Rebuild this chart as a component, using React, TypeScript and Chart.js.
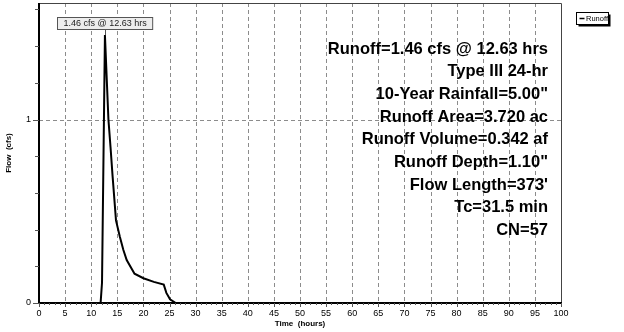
import React, { useEffect, useRef } from "react";
import { Chart, registerables } from "chart.js";

Chart.register(...registerables);

const timeHours = [0, 11.8, 12.07, 12.63, 13.3, 13.7, 14.1, 14.75, 15.5, 16.15, 16.8, 18.3, 20, 22, 23.9, 24.4, 25.1, 26.2, 100];
const flowCfs = [0, 0, 0.11, 1.46, 1.0, 0.85, 0.69, 0.45, 0.36, 0.29, 0.234, 0.16, 0.135, 0.115, 0.1, 0.055, 0.02, 0, 0];

const peakFlow = 1.46;
const peakTime = 12.63;
const peakLabel = "1.46 cfs @ 12.63 hrs";

const summaryLines = [
  "Runoff=1.46 cfs @ 12.63 hrs",
  "Type III 24-hr",
  "10-Year Rainfall=5.00\"",
  "Runoff Area=3.720 ac",
  "Runoff Volume=0.342 af",
  "Runoff Depth=1.10\"",
  "Flow Length=373'",
  "Tc=31.5 min",
  "CN=57",
];

const xMajorStep = 5;
const xMinorStep = 1;
const yMinorStep = 0.2;
const xMax = 100;
const yMax = 1.635;

const FONT = "'Liberation Sans', Arial, sans-serif";

const decorPlugin = {
  id: "decor",
  beforeDatasetsDraw(chart: any) {
    const { ctx, chartArea, scales } = chart;
    const xs = scales.x;
    const ys = scales.y;
    ctx.save();
    ctx.strokeStyle = "#8c8c8c";
    ctx.lineWidth = 1;
    ctx.setLineDash([4, 3]);
    for (let v = xMajorStep; v < xMax; v += xMajorStep) {
      const px = Math.round(xs.getPixelForValue(v)) + 0.5;
      ctx.beginPath();
      ctx.moveTo(px, chartArea.top);
      ctx.lineTo(px, chartArea.bottom);
      ctx.stroke();
    }
    const py1 = Math.round(ys.getPixelForValue(1)) + 0.5;
    ctx.beginPath();
    ctx.moveTo(chartArea.left, py1);
    ctx.lineTo(chartArea.right, py1);
    ctx.stroke();
    ctx.restore();
  },
  afterDatasetsDraw(chart: any) {
    const { ctx, chartArea, scales } = chart;
    const xs = scales.x;
    const ys = scales.y;
    const { left, right, top, bottom } = chartArea;
    ctx.save();
    // top/right border
    ctx.strokeStyle = "#444";
    ctx.lineWidth = 1;
    ctx.beginPath();
    ctx.moveTo(left, top + 0.5);
    ctx.lineTo(right + 0.5, top + 0.5);
    ctx.lineTo(right + 0.5, bottom);
    ctx.stroke();
    // left/bottom axes
    ctx.strokeStyle = "#000";
    ctx.lineWidth = 2;
    ctx.beginPath();
    ctx.moveTo(left, top);
    ctx.lineTo(left, bottom);
    ctx.lineTo(right + 1, bottom);
    ctx.stroke();
    // ticks
    ctx.lineWidth = 1;
    ctx.strokeStyle = "#555";
    for (let v = 0; v <= xMax; v += xMinorStep) {
      const px = Math.round(xs.getPixelForValue(v)) + 0.5;
      const len = v % xMajorStep === 0 ? 4 : 2;
      ctx.beginPath();
      ctx.moveTo(px, bottom);
      ctx.lineTo(px, bottom + len);
      ctx.stroke();
    }
    for (let i = 0; i * yMinorStep <= yMax; i++) {
      const v = i * yMinorStep;
      const py = Math.round(ys.getPixelForValue(v)) + 0.5;
      const len = i % 5 === 0 ? 6 : 4;
      ctx.beginPath();
      ctx.moveTo(left - len, py);
      ctx.lineTo(left, py);
      ctx.stroke();
    }
    // peak label
    const pkx = xs.getPixelForValue(peakTime);
    const pky = ys.getPixelForValue(peakFlow);
    ctx.font = `9px ${FONT}`;
    const tw = ctx.measureText(peakLabel).width;
    const bw = tw + 12;
    const bh = 12;
    const bx = Math.round(pkx - bw / 2) + 0.5;
    const by = 17.5;
    ctx.strokeStyle = "#555";
    ctx.beginPath();
    ctx.moveTo(Math.round(pkx) + 0.5, by + bh);
    ctx.lineTo(Math.round(pkx) + 0.5, pky);
    ctx.stroke();
    ctx.fillStyle = "#ededed";
    ctx.fillRect(bx, by, bw, bh);
    ctx.strokeRect(bx, by, bw, bh);
    ctx.fillStyle = "#222";
    ctx.textAlign = "center";
    ctx.textBaseline = "middle";
    ctx.fillText(peakLabel, bx + bw / 2, by + bh / 2 + 0.5);
    // summary text
    ctx.font = `bold 16.5px ${FONT}`;
    ctx.fillStyle = "#000";
    ctx.textAlign = "right";
    ctx.textBaseline = "middle";
    summaryLines.forEach((s, i) => {
      ctx.fillText(s, 548, 49 + i * 22.7);
    });
    // legend
    const lx = 576.5, ly = 12.5, lw = 32, lh = 12;
    ctx.fillStyle = "#000";
    ctx.fillRect(lx + 2, ly + 2, lw, lh);
    ctx.fillStyle = "#fff";
    ctx.fillRect(lx, ly, lw, lh);
    ctx.strokeStyle = "#000";
    ctx.lineWidth = 1;
    ctx.strokeRect(lx, ly, lw, lh);
    ctx.lineWidth = 1.5;
    ctx.beginPath();
    ctx.moveTo(lx + 3, ly + 6);
    ctx.lineTo(lx + 8, ly + 6);
    ctx.stroke();
    ctx.font = `7.5px ${FONT}`;
    ctx.fillStyle = "#000";
    ctx.textAlign = "left";
    ctx.fillText("Runoff", lx + 9.5, ly + 6.5);
    ctx.restore();
  },
};

export default function App() {
  const ref = useRef<HTMLCanvasElement>(null);
  useEffect(() => {
    if (!ref.current) return;
    const points = timeHours.map((t, i) => ({ x: t, y: flowCfs[i] }));
    const chart = new Chart(ref.current, {
      type: "line",
      data: {
        datasets: [
          {
            label: "Runoff",
            data: points,
            borderColor: "#000",
            borderWidth: 2,
            pointRadius: 0,
            tension: 0,
            fill: false,
          },
        ],
      },
      options: {
        animation: false,
        responsive: false,
        devicePixelRatio: 1,
        layout: { padding: { left: 0, top: 3, right: 63, bottom: 0 } },
        plugins: { legend: { display: false }, tooltip: { enabled: false } },
        scales: {
          x: {
            type: "linear",
            min: 0,
            max: xMax,
            grid: { display: false, drawTicks: false },
            border: { display: false },
            ticks: {
              stepSize: xMajorStep,
              padding: 5,
              maxRotation: 0,
              autoSkip: false,
              includeBounds: false,
              color: "#000",
              font: { family: FONT, size: 9 },
            },
            title: {
              display: true,
              text: "Time  (hours)",
              color: "#000",
              font: { family: FONT, size: 8, weight: "bold" },
              padding: { top: 0, bottom: 3 },
            },
            afterFit: (s: any) => {
              s.height = 29;
              s.paddingLeft = 0;
              s.paddingRight = 0;
            },
          },
          y: {
            type: "linear",
            min: 0,
            max: yMax,
            grid: { display: false, drawTicks: false },
            border: { display: false },
            ticks: {
              stepSize: 1,
              padding: 8,
              includeBounds: false,
              color: "#000",
              font: { family: FONT, size: 9 },
            },
            title: {
              display: true,
              text: "Flow  (cfs)",
              color: "#000",
              font: { family: FONT, size: 8, weight: "bold" },
              padding: { top: 4, bottom: 0 },
            },
            afterFit: (s: any) => {
              s.width = 39;
              s.paddingTop = 0;
              s.paddingBottom = 0;
            },
          },
        },
      } as any,
      plugins: [decorPlugin],
    });
    return () => chart.destroy();
  }, []);
  return (
    <div style={{ position: "absolute", left: 0, top: 0, width: 624, height: 332, background: "#fff" }}>
      <canvas ref={ref} width={624} height={332} style={{ display: "block" }} />
    </div>
  );
}
